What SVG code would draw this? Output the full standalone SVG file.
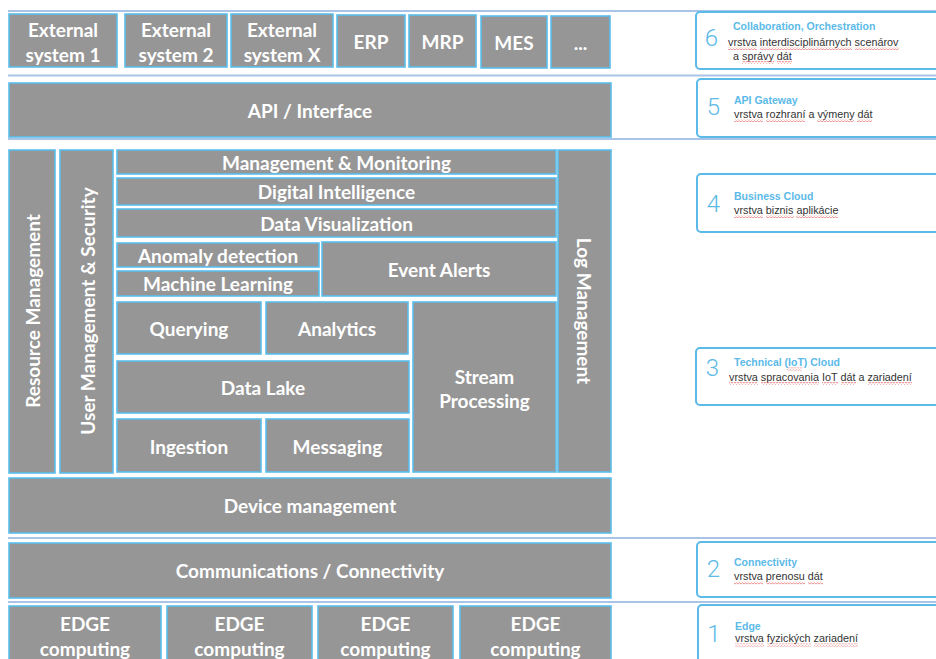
<svg xmlns="http://www.w3.org/2000/svg" width="936" height="659" viewBox="0 0 936 659">
<style>
.b{fill:#969696;stroke:#5BBDEB;stroke-width:1.6}
.t{font-family:Lato,"Open Sans","Liberation Sans",sans-serif;font-weight:700;font-size:19px;fill:#ffffff;text-anchor:middle;dominant-baseline:central}
.sep{stroke:#A9C4E6;stroke-width:2}
.lb{fill:#ffffff;stroke:#5BBAE8;stroke-width:2}
.num{font-family:Roboto,"Liberation Sans",sans-serif;font-weight:300;font-size:24px;fill:#5BBAE8;text-anchor:middle}
.ttl{font-family:"Liberation Sans",Arial,sans-serif;font-weight:700;font-size:10.5px;fill:#5BBAE8}
.bd{font-family:"Liberation Sans",Arial,sans-serif;font-size:10.8px;fill:#333333}
.wv{fill:url(#wave)}
</style>
<defs>
<pattern id="wave" patternUnits="userSpaceOnUse" width="3" height="3">
<path d="M0 2.2 L1.5 0.8 L3 2.2" fill="none" stroke="#E05050" stroke-width="0.7"/>
</pattern>
</defs>
<rect width="936" height="659" fill="#ffffff"/>
<g id="separators">
<line class="sep" x1="8" y1="11" x2="936" y2="11"/>
<line class="sep" x1="8" y1="75.5" x2="936" y2="75.5"/>
<line class="sep" x1="8" y1="139" x2="936" y2="139"/>
<line class="sep" x1="8" y1="538" x2="936" y2="538"/>
<line class="sep" x1="8" y1="602" x2="936" y2="602"/>
</g>
<g id="ext1"><rect class="b" x="9" y="14" width="108" height="53"/><text class="t" x="63" y="29">External</text><text class="t" x="63" y="54">system 1</text></g>
<g id="ext2"><rect class="b" x="125" y="14" width="102" height="53"/><text class="t" x="176" y="29">External</text><text class="t" x="176" y="54">system 2</text></g>
<g id="extX"><rect class="b" x="231" y="14" width="102" height="53"/><text class="t" x="282" y="29">External</text><text class="t" x="282" y="54">system X</text></g>
<g id="erp"><rect class="b" x="337" y="15" width="68" height="52"/><text class="t" x="371" y="41">ERP</text></g>
<g id="mrp"><rect class="b" x="409" y="15" width="67" height="52"/><text class="t" x="442.5" y="41">MRP</text></g>
<g id="mes"><rect class="b" x="481" y="16" width="66" height="52"/><text class="t" x="514" y="42">MES</text></g>
<g id="more"><rect class="b" x="551" y="16" width="59" height="52"/><text class="t" x="580.5" y="42">...</text></g>
<g id="api"><rect class="b" x="9" y="83" width="602" height="54"/><text class="t" x="310" y="110">API / Interface</text></g>
<g id="resource"><rect class="b" x="9" y="150" width="46" height="323"/><text class="t" transform="rotate(-90 32 311)" x="32" y="311">Resource Management</text></g>
<g id="user"><rect class="b" x="60" y="150" width="53" height="323"/><text class="t" transform="rotate(-90 87 311)" x="87" y="311">User Management &amp; Security</text></g>
<g id="mgmt"><rect class="b" x="117" y="150" width="439" height="24"/><text class="t" x="336.5" y="162">Management &amp; Monitoring</text></g>
<g id="di"><rect class="b" x="117" y="178" width="439" height="27"/><text class="t" x="336.5" y="191.5">Digital Intelligence</text></g>
<g id="dv"><rect class="b" x="117" y="209" width="439" height="28"/><text class="t" x="336.5" y="223">Data Visualization</text></g>
<g id="anomaly"><rect class="b" x="117" y="243" width="202" height="24"/><text class="t" x="218" y="255">Anomaly detection</text></g>
<g id="ml"><rect class="b" x="117" y="271" width="202" height="25"/><text class="t" x="218" y="283.5">Machine Learning</text></g>
<g id="alerts"><rect class="b" x="322" y="242" width="234" height="54"/><text class="t" x="439" y="269">Event Alerts</text></g>
<g id="log"><rect class="b" x="558" y="150" width="53" height="322"/><text class="t" transform="rotate(90 584 311)" x="584" y="311">Log Management</text></g>
<g id="querying"><rect class="b" x="117" y="302" width="144" height="52"/><text class="t" x="189" y="328">Querying</text></g>
<g id="analytics"><rect class="b" x="266" y="302" width="142" height="52"/><text class="t" x="337" y="328">Analytics</text></g>
<g id="datalake"><rect class="b" x="117" y="361" width="292" height="52"/><text class="t" x="263" y="387">Data Lake</text></g>
<g id="ingestion"><rect class="b" x="117" y="419" width="144" height="53"/><text class="t" x="189" y="446">Ingestion</text></g>
<g id="messaging"><rect class="b" x="266" y="419" width="143" height="53"/><text class="t" x="337.5" y="446">Messaging</text></g>
<g id="stream"><rect class="b" x="413" y="302" width="143" height="170"/><text class="t" x="484.5" y="376">Stream</text><text class="t" x="484.5" y="400">Processing</text></g>
<g id="device"><rect class="b" x="9" y="478" width="602" height="55"/><text class="t" x="310" y="505.5">Device management</text></g>
<g id="comm"><rect class="b" x="9" y="543" width="602" height="55"/><text class="t" x="310" y="570.5">Communications / Connectivity</text></g>
<g id="edge1"><rect class="b" x="9" y="606" width="152" height="70"/><text class="t" x="85" y="623">EDGE</text><text class="t" x="85" y="648">computing</text></g>
<g id="edge2"><rect class="b" x="167" y="606" width="145" height="70"/><text class="t" x="239.5" y="623">EDGE</text><text class="t" x="239.5" y="648">computing</text></g>
<g id="edge3"><rect class="b" x="318" y="606" width="135" height="70"/><text class="t" x="385.5" y="623">EDGE</text><text class="t" x="385.5" y="648">computing</text></g>
<g id="edge4"><rect class="b" x="460" y="606" width="151" height="70"/><text class="t" x="535.5" y="623">EDGE</text><text class="t" x="535.5" y="648">computing</text></g>
<g id="layer6"><rect class="lb" x="696" y="12" width="260" height="57" rx="4"/><text class="num" x="711.5" y="46">6</text><text class="ttl" x="733" y="30">Collaboration, Orchestration</text><text class="bd" x="728" y="45.5">vrstva interdisciplinárnych scenárov</text><text class="bd" x="733" y="59.5">a správy dát</text>
<rect class="wv" x="728" y="47" width="29" height="3"/><rect class="wv" x="760" y="47" width="92" height="3"/><rect class="wv" x="855" y="47" width="44" height="3"/><rect class="wv" x="742" y="61" width="32" height="3"/><rect class="wv" x="777" y="61" width="15" height="3"/></g>
<g id="layer5"><rect class="lb" x="697" y="79" width="260" height="58" rx="4"/><text class="num" x="713.5" y="115">5</text><text class="ttl" x="734" y="103.5">API Gateway</text><text class="bd" x="734" y="117.5">vrstva rozhraní a výmeny dát</text>
<rect class="wv" x="734" y="119" width="29" height="3"/><rect class="wv" x="766" y="119" width="39" height="3"/><rect class="wv" x="817" y="119" width="37" height="3"/><rect class="wv" x="857" y="119" width="15" height="3"/></g>
<g id="layer4"><rect class="lb" x="697" y="174" width="260" height="58" rx="4"/><text class="num" x="713.5" y="212">4</text><text class="ttl" x="734" y="199.5">Business Cloud</text><text class="bd" x="734" y="213.5">vrstva biznis aplikácie</text>
<rect class="wv" x="734" y="215" width="29" height="3"/><rect class="wv" x="766" y="215" width="28" height="3"/><rect class="wv" x="796" y="215" width="42" height="3"/></g>
<g id="layer3"><rect class="lb" x="696" y="348" width="260" height="57" rx="4"/><text class="num" x="712.5" y="376">3</text><text class="ttl" x="734" y="366">Technical (IoT) Cloud</text><text class="bd" x="729" y="380.5">vrstva spracovania IoT dát a zariadení</text>
<rect class="wv" x="787" y="367.5" width="15" height="3"/><rect class="wv" x="729" y="382" width="29" height="3"/><rect class="wv" x="761" y="382" width="58" height="3"/><rect class="wv" x="822" y="382" width="16" height="3"/><rect class="wv" x="841" y="382" width="15" height="3"/><rect class="wv" x="868" y="382" width="44" height="3"/></g>
<g id="layer2"><rect class="lb" x="697" y="542" width="260" height="55" rx="4"/><text class="num" x="713.5" y="577">2</text><text class="ttl" x="734" y="566">Connectivity</text><text class="bd" x="734" y="580">vrstva prenosu dát</text>
<rect class="wv" x="734" y="581.5" width="29" height="3"/><rect class="wv" x="766" y="581.5" width="39" height="3"/><rect class="wv" x="808" y="581.5" width="15" height="3"/></g>
<g id="layer1"><rect class="lb" x="698" y="605" width="260" height="70" rx="4"/><text class="num" x="714" y="642">1</text><text class="ttl" x="735" y="629.5">Edge</text><text class="bd" x="735" y="642">vrstva fyzických zariadení</text>
<rect class="wv" x="735" y="643.5" width="29" height="3"/><rect class="wv" x="767" y="643.5" width="44" height="3"/><rect class="wv" x="814" y="643.5" width="44" height="3"/></g>
<g id="connectors"></g>
</svg>
